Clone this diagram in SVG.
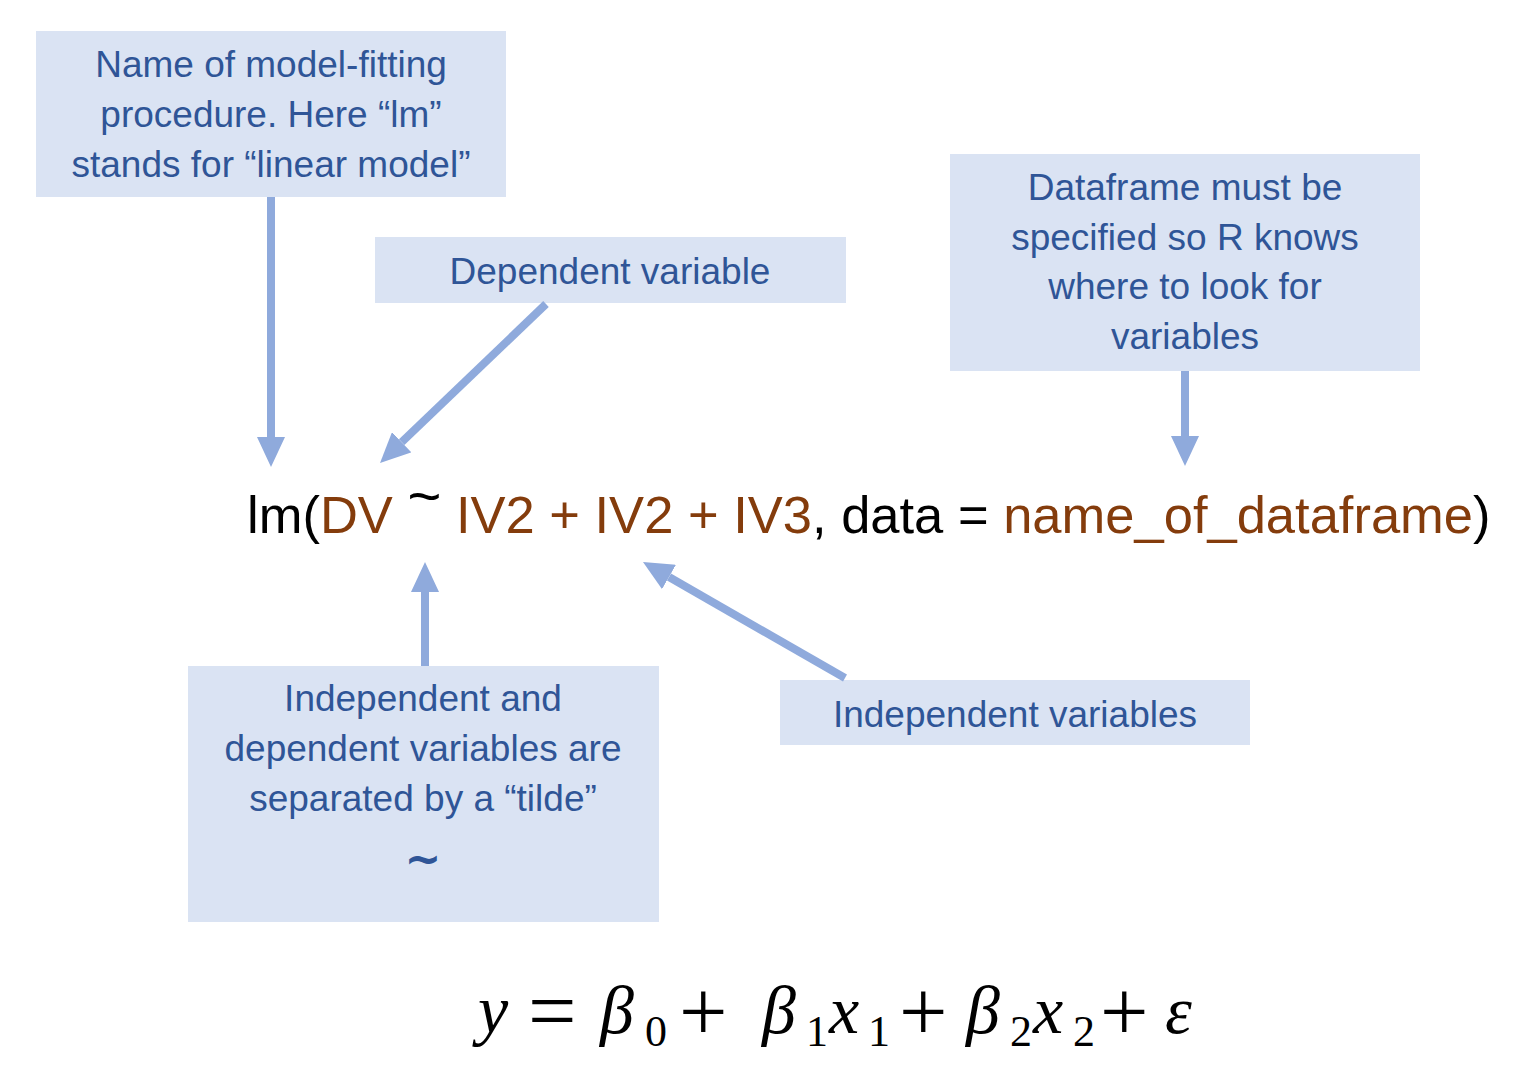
<svg xmlns="http://www.w3.org/2000/svg" width="1530" height="1067" viewBox="0 0 1530 1067">
<style>
.box{fill:#DAE3F3;}
.lbl{font-family:"Liberation Sans",Arial,sans-serif;font-size:37px;fill:#2F5597;text-anchor:middle;}
.code{font-family:"Liberation Sans",Arial,sans-serif;font-size:52.5px;fill:#000;}
.br{fill:#843C0C;}
.arr{stroke:#8FAADC;stroke-width:8;fill:none;marker-end:url(#head);}
.m{font-family:"Liberation Serif","DejaVu Serif",serif;font-size:68px;font-style:italic;fill:#000;}
.op{font-family:"Liberation Serif","DejaVu Serif",serif;font-size:86px;fill:#000;}
.sub{font-family:"Liberation Serif","DejaVu Serif",serif;font-size:44px;fill:#000;}
</style>
<defs>
<marker id="head" viewBox="0 0 30 28" markerWidth="30" markerHeight="28" refX="0" refY="14" orient="auto" markerUnits="userSpaceOnUse">
<path d="M0,0 L30,14 L0,28 Z" fill="#8FAADC"/>
</marker>
</defs>
<g id="node-procedure">
<rect class="box" x="36" y="31" width="470" height="166"/>
<text class="lbl" x="271" y="77">Name of model-fitting</text>
<text class="lbl" x="271" y="127">procedure. Here “lm”</text>
<text class="lbl" x="271" y="177">stands for “linear model”</text>
</g>
<g id="node-dv">
<rect class="box" x="375" y="237" width="471" height="66"/>
<text class="lbl" x="610" y="284">Dependent variable</text>
</g>
<g id="node-dataframe">
<rect class="box" x="950" y="154" width="470" height="217"/>
<text class="lbl" x="1185" y="200">Dataframe must be</text>
<text class="lbl" x="1185" y="250">specified so R knows</text>
<text class="lbl" x="1185" y="299">where to look for</text>
<text class="lbl" x="1185" y="349">variables</text>
</g>
<g id="node-tilde">
<rect class="box" x="188" y="666" width="471" height="256"/>
<text class="lbl" x="423" y="711">Independent and</text>
<text class="lbl" x="423" y="761">dependent variables are</text>
<text class="lbl" x="423" y="811">separated by a “tilde”</text>
<text class="lbl" x="423" y="874" style="font-family:'DejaVu Sans',sans-serif;font-weight:bold;font-size:44px">~</text>
</g>
<g id="node-iv">
<rect class="box" x="780" y="680" width="470" height="65"/>
<text class="lbl" x="1015" y="727">Independent variables</text>
</g>
<g id="node-formula">
<text class="code" x="247" y="533">lm(<tspan class="br">DV</tspan> <tspan dy="-17" font-size="58">~</tspan><tspan dy="17"> </tspan><tspan class="br">IV2 + IV2 + IV3</tspan>, data = <tspan class="br">name_of_dataframe</tspan>)</text>
</g>
<g id="node-equation">
<text class="m" x="478" y="1033">y</text>
<text class="op" x="528" y="1040">=</text>
<text class="m" x="600" y="1033">β</text>
<text class="sub" x="645" y="1046">0</text>
<text class="op" x="679" y="1041">+</text>
<text class="m" x="762" y="1033">β</text>
<text class="sub" x="806" y="1046">1</text>
<text class="m" x="829" y="1033">x</text>
<text class="sub" x="868" y="1046">1</text>
<text class="op" x="899" y="1041">+</text>
<text class="m" x="966" y="1033">β</text>
<text class="sub" x="1010" y="1046">2</text>
<text class="m" x="1033" y="1033">x</text>
<text class="sub" x="1073" y="1046">2</text>
<text class="op" x="1100" y="1041">+</text>
<text class="m" x="1165" y="1033">ε</text>
</g>
<g id="connectors">
<line class="arr" x1="271" y1="197" x2="271" y2="437"/>
<line class="arr" x1="546" y1="304" x2="401.7" y2="442.2"/>
<line class="arr" x1="1185" y1="371" x2="1185" y2="436"/>
<line class="arr" x1="425" y1="666" x2="425" y2="592"/>
<line class="arr" x1="845" y1="678" x2="669" y2="577"/>
</g>
</svg>
